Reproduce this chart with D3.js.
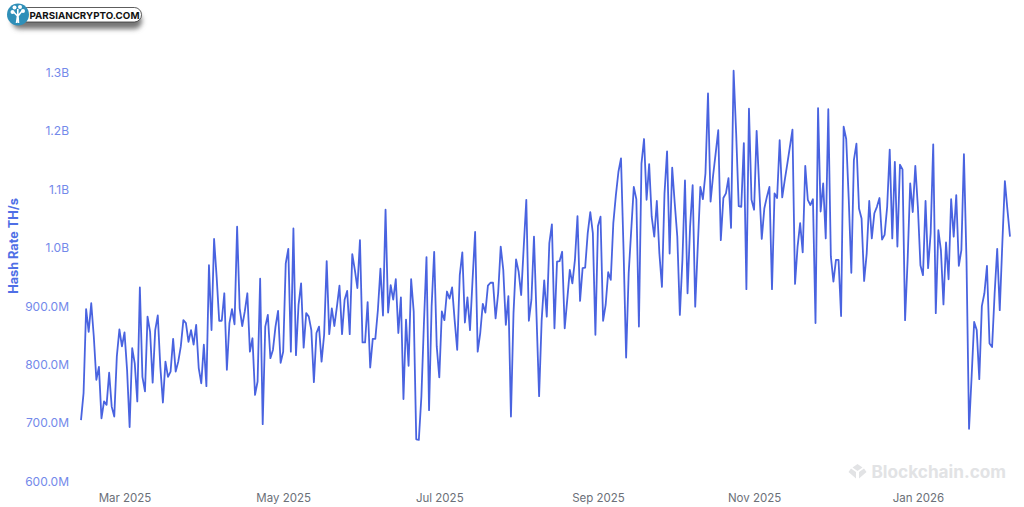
<!DOCTYPE html>
<html>
<head>
<meta charset="utf-8">
<script src="https://cdn.jsdelivr.net/npm/d3@7"></script>
<style>
html, body { margin: 0; padding: 0; background: #fff; }
svg { display: block; }
text { font-family: Inter, "Liberation Sans", sans-serif; }
.y-tick text { fill: #7389ea; font-size: 12px; }
.x-tick text { fill: #6b7078; font-size: 11.5px; }
</style>
</head>
<body>
<svg id="chart" width="1024" height="507"></svg>
<script>
// daily hash rate in millions of TH/s
var hashRateM = [
  706,752,896,857,906,849,775,797,709,738,732,787,729,712,815,861,832,856,792,694,
  829,803,738,933,780,755,883,857,770,860,885,797,736,806,780,789,845,789,806,832,
  877,872,840,860,835,869,795,769,835,764,971,860,1016,951,876,876,923,792,872,896,
  870,1037,897,867,892,923,823,846,749,772,948,699,866,886,812,826,866,893,804,823,
  974,999,823,1034,817,903,940,830,889,883,
  860,771,855,866,806,852,978,853,897,867,900,936,853,912,927,853,990,963,932,1014,
  839,839,908,796,845,845,894,965,885,1066,890,937,912,947,855,916,742,878,799,947,
  892,673,672,746,872,985,723,900,994,832,779,892,877,926,914,933,877,826,954,993,
  873,916,860,946,1028,823,855,905,890,936,941,941,880,923,1003,963,869,918,712,889,
  981,960,920,1003,1083,876,912,1020,883,747,
  877,945,883,1009,1041,863,977,978,994,863,912,963,940,980,1055,910,966,967,1026,1062,
  1026,852,1038,1054,876,903,959,946,1043,1091,1131,1154,997,813,957,1031,1105,1084,866,1145,
  1187,1083,1144,1054,1020,1081,991,934,1094,1166,991,1138,1077,1020,886,980,1116,923,1037,1108,
  900,1003,1105,1084,1128,1265,1080,1125,1163,1202,1014,1086,1094,1120,1035,1304,1197,1072,1071,1180,
  930,1239,1083,1066,1201,1105,1016,1068,1088,1105,930,1094,1086,1185,
  1087,1117,1145,1174,1203,939,1003,1043,993,1141,1083,1074,1084,872,1240,1063,1111,1017,1238,986,
  943,980,980,884,1208,1187,1083,958,1151,1179,1068,1051,944,991,1081,1017,1060,1071,1086,1015,
  1023,1071,1169,1017,1148,1003,1143,1135,877,980,1111,1062,1141,1071,971,954,1081,966,1026,1178,
  889,1031,997,904,1010,947,1084,1020,1091,970,997,1161,980,691,780,874,860,776,901,923,
  970,837,831,923,999,894,1008,1115,1066,1020
];
var startDate = new Date(2025, 1, 12);

var yTickValues = [600, 700, 800, 900, 1000, 1100, 1200, 1300];
var yTickLabels = ["600.0M", "700.0M", "800.0M", "900.0M", "1.0B", "1.1B", "1.2B", "1.3B"];
var xTickDates = [
  new Date(2025, 2, 1), new Date(2025, 4, 2), new Date(2025, 6, 2),
  new Date(2025, 8, 2), new Date(2025, 10, 2), new Date(2026, 0, 5)
];

var svg = d3.select("#chart");

var dates = hashRateM.map(function(d, i) { return d3.timeDay.offset(startDate, i); });

var x = d3.scaleTime()
  .domain([dates[0], dates[dates.length - 1]])
  .range([81, 1010]);

var y = d3.scaleLinear()
  .domain([600, 1300])
  .range([482, 73]);

// x axis
var xAxis = svg.append("g")
  .attr("class", "x-tick")
  .attr("transform", "translate(0,491.5)")
  .call(d3.axisBottom(x).tickValues(xTickDates).tickSize(0).tickPadding(2).tickFormat(d3.timeFormat("%b %Y")));
xAxis.select(".domain").remove();

// y axis
var yAxis = svg.append("g")
  .attr("class", "y-tick")
  .attr("transform", "translate(69,-0.5)")
  .call(d3.axisLeft(y).tickValues(yTickValues).tickSize(0).tickPadding(0)
    .tickFormat(function(d, i) { return yTickLabels[i]; }));
yAxis.select(".domain").remove();

svg.append("text")
  .attr("transform", "translate(18,246) rotate(-90)")
  .attr("text-anchor", "middle")
  .attr("fill", "#4f6fe6")
  .attr("font-size", 12.7)
  .attr("font-weight", 700)
  .text("Hash Rate TH/s");

// watermark
var mark = svg.append("g").attr("fill", "#e2e3e5");
mark.append("path").attr("d", "M857.5 464l5 3.5-5 3.5-5-3.5zM851 468.5l5 3.5v6.5l-7.5-6.5zM864 468.5l2.5 3.5-7.5 6.5v-6.5z");
mark.append("text")
  .attr("x", 871.5).attr("y", 478)
  .attr("font-size", 17.2).attr("font-weight", 700)
  .text("Blockchain.com");

// series line
var defs = svg.append("defs");
defs.append("filter").attr("id", "lineSoft").attr("filterUnits", "userSpaceOnUse")
  .attr("x", 0).attr("y", 0).attr("width", 1024).attr("height", 507)
  .append("feGaussianBlur").attr("stdDeviation", 0.35);

var line = d3.line()
  .x(function(d, i) { return x(dates[i]); })
  .y(function(d) { return y(d); });

svg.append("path")
  .datum(hashRateM)
  .attr("fill", "none")
  .attr("stroke", "#4a64e0")
  .attr("stroke-width", 1.8)
  .attr("stroke-linejoin", "round")
  .attr("filter", "url(#lineSoft)")
  .attr("d", line);

// logo badge, top left
defs.append("filter").attr("id", "soft").attr("x", "-20%").attr("y", "-60%").attr("width", "140%").attr("height", "260%")
  .append("feGaussianBlur").attr("stdDeviation", 2.5);

var logo = svg.append("g");
logo.append("rect").attr("x", 12).attr("y", 13).attr("width", 130).attr("height", 16).attr("rx", 8)
  .attr("fill", "#777").attr("filter", "url(#soft)");
logo.append("rect").attr("x", 20).attr("y", 7.5).attr("width", 121.5).attr("height", 14.5).attr("rx", 7.2)
  .attr("fill", "#fff").attr("stroke", "#333").attr("stroke-width", 0.8);
logo.append("text").attr("x", 29.5).attr("y", 18.6)
  .attr("font-family", "Liberation Sans").attr("font-size", 9.6).attr("font-weight", 700).attr("fill", "#111")
  .attr("textLength", 110).attr("lengthAdjust", "spacingAndGlyphs")
  .text("PARSIANCRYPTO.COM");
logo.append("circle").attr("cx", 18).attr("cy", 14.5).attr("r", 11).attr("fill", "#2f8fb8");
logo.append("path")
  .attr("d", "M16.5 23l1-7-4-4M18.5 23l-.5-7 4-5M17.8 17v-8")
  .attr("fill", "none").attr("stroke", "#fff").attr("stroke-width", 1.6);
[[12.5, 12], [14.5, 7.5], [20, 7], [23, 11]].forEach(function(c) {
  logo.append("circle").attr("cx", c[0]).attr("cy", c[1]).attr("r", 2).attr("fill", "#fff");
});
</script>
</body>
</html>
